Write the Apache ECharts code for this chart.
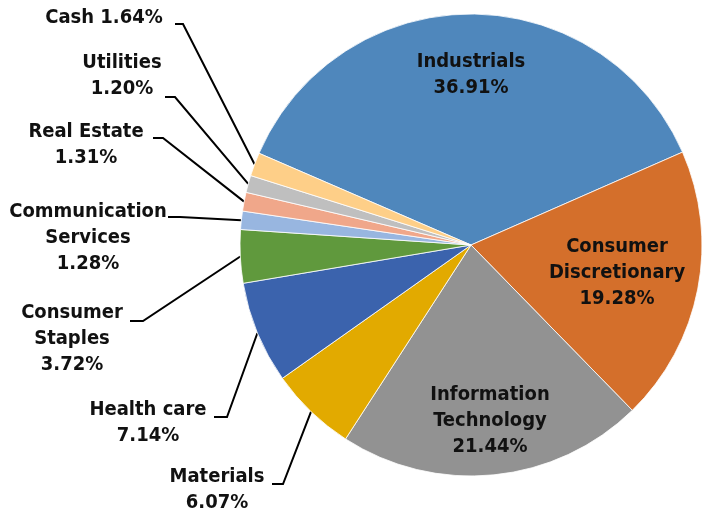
<!DOCTYPE html>
<html>
<head>
<meta charset="utf-8">
<script src="https://cdn.jsdelivr.net/npm/echarts@6/dist/echarts.min.js"></script>
<style>
  html, body { margin: 0; padding: 0; background: #ffffff; }
  #chart { width: 705px; height: 515px; }
</style>
</head>
<body>
<div id="chart"></div>
<script>
// Sector weights, clockwise from the top-left edge of Industrials
const categories = [
  'Industrials', 'Consumer Discretionary', 'Information Technology', 'Materials',
  'Health care', 'Consumer Staples', 'Communication Services', 'Real Estate',
  'Utilities', 'Cash'
];
const weights = [36.91, 19.28, 21.44, 6.07, 7.14, 3.72, 1.28, 1.31, 1.20, 1.64];
// Label name text, broken into lines
const labelNames = [
  'Industrials', 'Consumer\nDiscretionary', 'Information\nTechnology', 'Materials',
  'Health care', 'Consumer\nStaples', 'Communication\nServices', 'Real Estate',
  'Utilities', 'Cash'
];
const colors = [
  '#4f87bc', '#d46f2b', '#929292', '#e2aa00', '#3b63ad',
  '#60993d', '#98b6e0', '#f0a78a', '#bfbfbf', '#fecf88'
];
// Slices whose label sits inside the slice
const insideSlices = [true, true, true, false, false, false, false, false, false, false];

// Label block centres and leader-line bends (layout only)
const labelSpots = [
  { x: 471, y: 75 },
  { x: 617, y: 273 },
  { x: 490, y: 421 },
  { x: 217, y: 490, bend: [283, 484], end: [272, 484] },
  { x: 148, y: 423, bend: [227, 417], end: [214, 417] },
  { x: 72, y: 339, bend: [143, 321], end: [130, 321] },
  { x: 88, y: 238, bend: [180, 217], end: [168, 217] },
  { x: 86, y: 145, bend: [163, 138], end: [153, 138] },
  { x: 122, y: 76, bend: [175, 97], end: [165, 97] },
  { x: 104, y: 18, bend: [183, 24], end: [175, 24] }
];

const labelFont = {
  fontFamily: '"DejaVu Sans Condensed", "DejaVu Sans", sans-serif',
  fontWeight: 'bold',
  fontSize: 20,
  lineHeight: 26,
  color: '#111111'
};

const pieData = categories.map((name, i) => ({
  name: name,
  value: weights[i],
  itemStyle: { color: colors[i] },
  label: Object.assign({
    show: true,
    position: insideSlices[i] ? 'inside' : 'outside',
    align: 'center',
    formatter: () => {
      const pct = weights[i].toFixed(2) + '%';
      return name === 'Cash' ? labelNames[i] + ' ' + pct : labelNames[i] + '\n' + pct;
    }
  }, labelFont),
  labelLine: { show: !insideSlices[i] }
}));

const chart = echarts.init(document.getElementById('chart'), null, { renderer: 'canvas' });
chart.setOption({
  animation: false,
  backgroundColor: '#ffffff',
  series: [{
    type: 'pie',
    center: [471, 245],
    radius: [0, 231],
    startAngle: 156.6,
    clockwise: true,
    avoidLabelOverlap: false,
    data: pieData,
    itemStyle: { borderColor: '#ffffff', borderWidth: 0.8 },
    labelLine: {
      show: true,
      length: 20,
      length2: 10,
      lineStyle: { color: '#000000', width: 2 }
    },
    labelLayout: function (params) {
      const spot = labelSpots[params.dataIndex];
      const out = { x: spot.x, y: spot.y, align: 'center', verticalAlign: 'middle' };
      if (spot.bend && params.labelLinePoints) {
        out.labelLinePoints = [params.labelLinePoints[0], spot.bend, spot.end];
      }
      return out;
    }
  }]
});
</script>
</body>
</html>
